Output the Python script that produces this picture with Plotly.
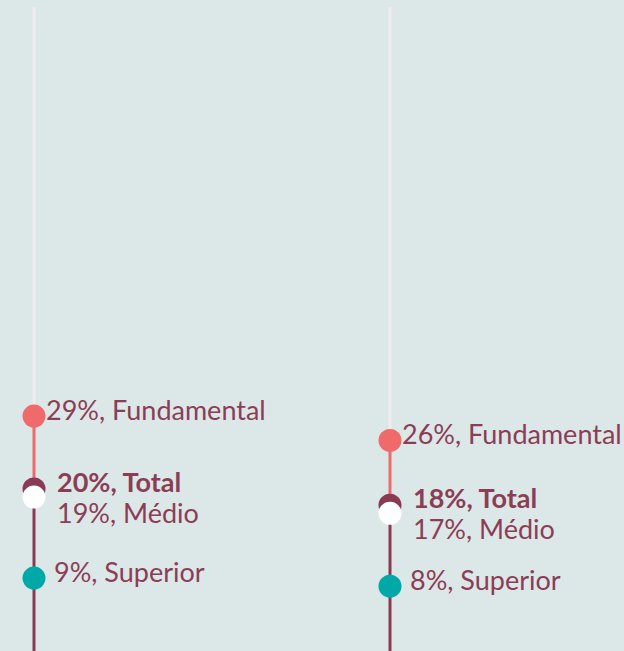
import plotly.graph_objects as go

# Data
groups = [0, 1]
categories = ["Fundamental", "Total", "Médio", "Superior"]
values_g1 = [29, 20, 19, 9]
values_g2 = [26, 18, 17, 8]
series = [values_g1, values_g2]
axis_top = 79.5

BG = "#dbe8e7"
MAROON = "#8a3b53"
SALMON = "#ef6a6a"
TEAL = "#00a9a8"
LIGHT = "#eeecef"
WHITE = "#ffffff"
TEXT = "#8b3d55"
FONT = "Lato"

dot_colors = {"Fundamental": SALMON, "Total": MAROON, "Médio": WHITE, "Superior": TEAL}
# label offsets (px)
label_dx = {"Fundamental": 10, "Total": 21, "Médio": 21, "Superior": 18}
label_dy = {"Fundamental": 7, "Total": 8, "Médio": -15, "Superior": 7}

fig = go.Figure()

for gx, vals in zip(groups, series):
    d = dict(zip(categories, vals))
    top = max(vals)
    tot = d["Total"]
    fig.add_trace(go.Scatter(x=[gx, gx], y=[top, axis_top], mode="lines",
                             line=dict(color=LIGHT, width=3), hoverinfo="skip", showlegend=False))
    fig.add_trace(go.Scatter(x=[gx, gx], y=[tot, top], mode="lines",
                             line=dict(color=SALMON, width=3), hoverinfo="skip", showlegend=False))
    fig.add_trace(go.Scatter(x=[gx, gx], y=[0, tot], mode="lines",
                             line=dict(color=MAROON, width=3), hoverinfo="skip", showlegend=False))
    for cat in ["Fundamental", "Total", "Superior", "Médio"]:
        fig.add_trace(go.Scatter(x=[gx], y=[d[cat]], mode="markers",
                                 marker=dict(size=23, color=dot_colors[cat], line=dict(width=0)),
                                 showlegend=False, name=cat))
    for cat in categories:
        txt = f"{d[cat]}%, {cat}"
        if cat == "Total":
            txt = f"<b>{txt}</b>"
        fig.add_annotation(x=gx, y=d[cat], xref="x", yref="y", text=txt, showarrow=False,
                           xanchor="left", yanchor="middle",
                           xshift=label_dx[cat], yshift=label_dy[cat],
                           font=dict(family=FONT, size=27, color=TEXT))

px_per_unit = 356
fig.update_xaxes(range=[-34 / px_per_unit, (624 - 34) / px_per_unit], visible=False, fixedrange=True)
fig.update_yaxes(range=[0, 651 / 8.1], visible=False, fixedrange=True)
fig.update_layout(width=624, height=651, margin=dict(l=0, r=0, t=0, b=0),
                  paper_bgcolor=BG, plot_bgcolor=BG, showlegend=False)

fig.write_html("out.html", config={"displayModeBar": False},
               post_script="document.body.style.margin='0';document.body.style.overflow='hidden';")
